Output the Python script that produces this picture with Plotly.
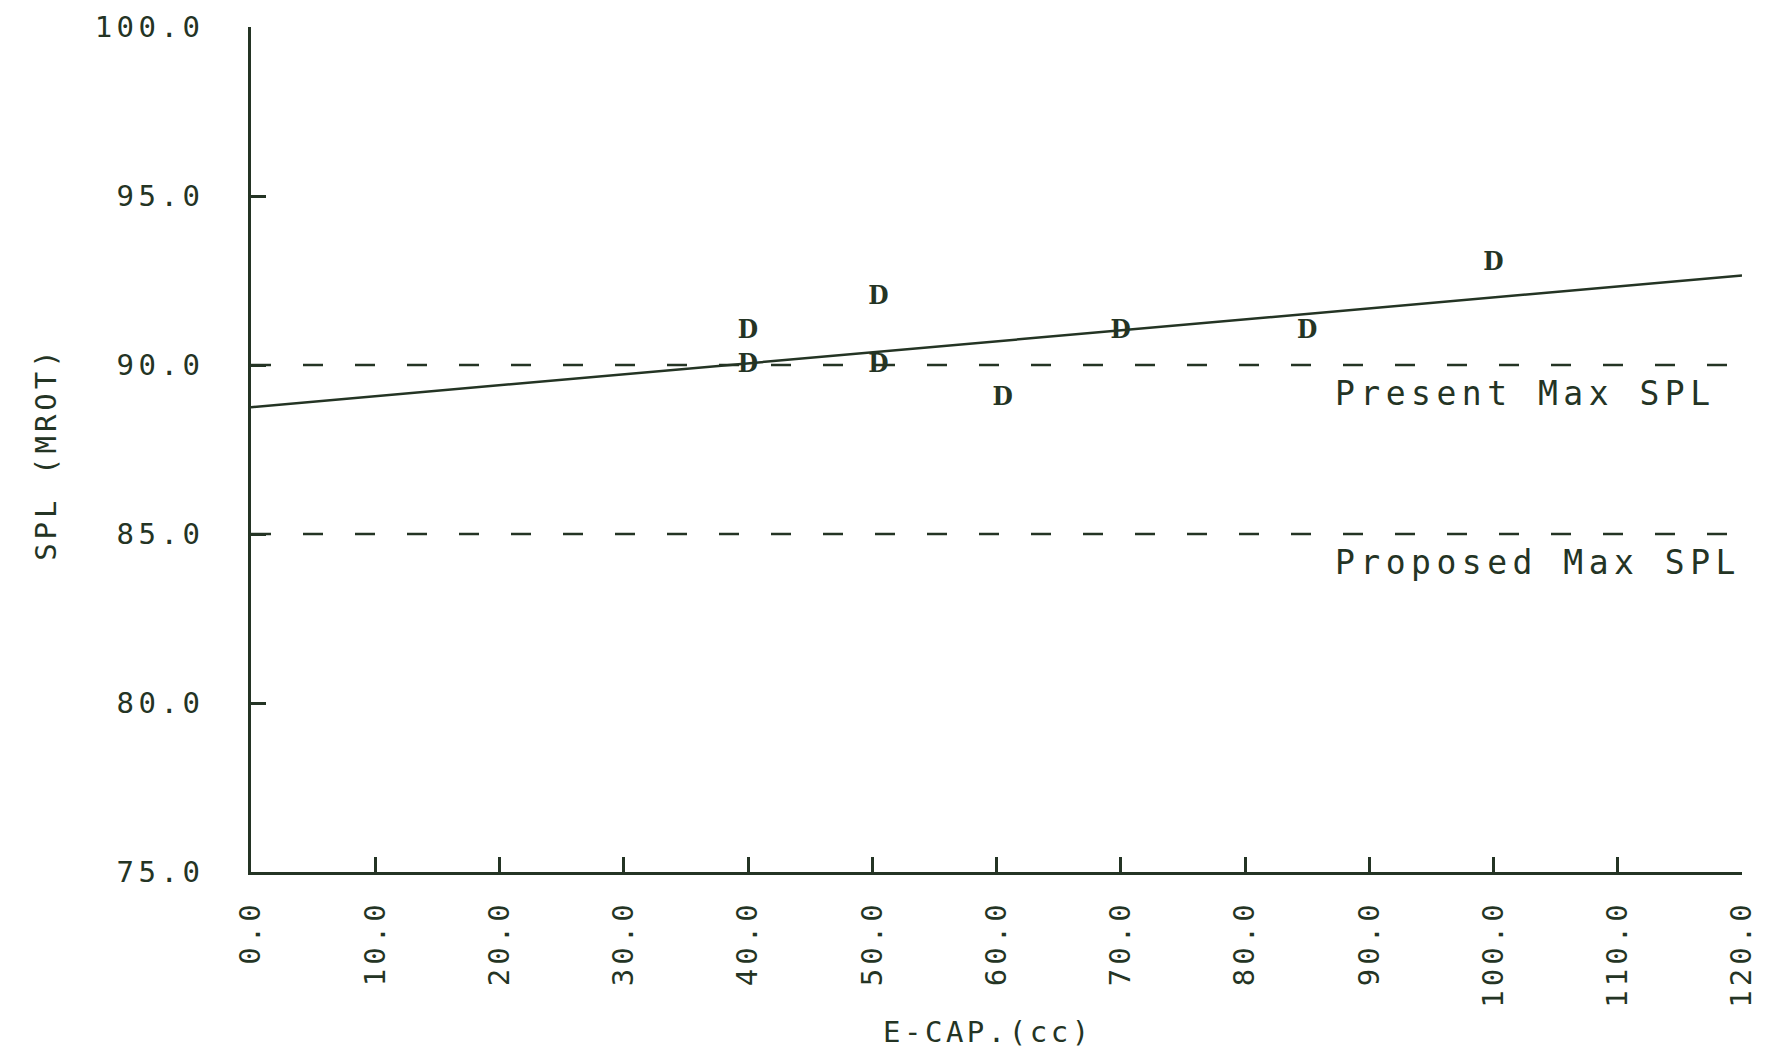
import plotly.graph_objects as go

# Data
cap_cc = [40, 40, 50.5, 50.5, 60.5, 70, 85, 100]
spl = [91, 90, 92, 90, 89, 91, 91, 93]
fit_x = [0, 120]
fit_y = [88.75, 92.65]
present_max = 90.0
proposed_max = 85.0
x_ticks = [0, 10, 20, 30, 40, 50, 60, 70, 80, 90, 100, 110, 120]
y_ticks = [75, 80, 85, 90, 95, 100]

INK = "#243424"
MONO = "DejaVu Sans Mono"


def spaced(s, px):
    return f'<span style="letter-spacing:{px}px">{s}</span>'


fig = go.Figure()

for lvl in (present_max, proposed_max):
    fig.add_trace(go.Scatter(x=[0, 120], y=[lvl, lvl], mode="lines",
                             line=dict(color=INK, width=2.5, dash="20px,32px"),
                             hoverinfo="skip", showlegend=False))

fig.add_trace(go.Scatter(x=fit_x, y=fit_y, mode="lines",
                         line=dict(color=INK, width=2.5), showlegend=False))

fig.add_trace(go.Scatter(x=cap_cc, y=spl, mode="text", text=["<b>D</b>"] * len(cap_cc),
                         textposition="middle center",
                         textfont=dict(family="DejaVu Serif Condensed, DejaVu Serif",
                                       size=26, color=INK),
                         showlegend=False))

fig.add_annotation(x=87.1, y=89.17, text=spaced("Present Max SPL", 5.5), showarrow=False,
                   xanchor="left", yanchor="middle",
                   font=dict(family=MONO, size=33, color=INK))
fig.add_annotation(x=87.1, y=84.17, text=spaced("Proposed Max SPL", 5.5), showarrow=False,
                   xanchor="left", yanchor="middle",
                   font=dict(family=MONO, size=33, color=INK))

# axis titles
fig.add_annotation(xref="paper", yref="paper", x=0.494, y=-0.189,
                   text=spaced("E-CAP.(cc)", 3.5), showarrow=False,
                   xanchor="center", yanchor="middle",
                   font=dict(family=MONO, size=29, color=INK))
fig.add_annotation(xref="paper", yref="paper", x=-0.1375, y=0.496,
                   text=spaced("SPL (MROT)", 4), showarrow=False, textangle=-90,
                   xanchor="center", yanchor="middle",
                   font=dict(family=MONO, size=29, color=INK))

fig.update_layout(
    width=1769, height=1061,
    margin=dict(l=243, r=35, t=19, b=197),
    paper_bgcolor="white", plot_bgcolor="white",
    showlegend=False,
)

fig.update_xaxes(
    range=[0, 120], tickvals=x_ticks,
    ticktext=[spaced(f"{v:.1f}", 4) for v in x_ticks],
    tickangle=-90, ticks="inside", ticklen=15, tickwidth=2.5, tickcolor=INK,
    showline=True, linecolor=INK, linewidth=2.5, showgrid=False, zeroline=False,
    tickfont=dict(family=MONO, size=29, color=INK), ticklabelstandoff=14,
    automargin=False,
)
fig.update_yaxes(
    range=[75, 100], tickvals=y_ticks,
    ticktext=[spaced(f"{v:.1f}", 4.5) for v in y_ticks],
    ticks="inside", ticklen=15, tickwidth=2.5, tickcolor=INK,
    showline=True, linecolor=INK, linewidth=2.5, showgrid=False, zeroline=False,
    tickfont=dict(family=MONO, size=29, color=INK), ticklabelstandoff=38,
    automargin=False,
)

fig.write_html("out.html")
